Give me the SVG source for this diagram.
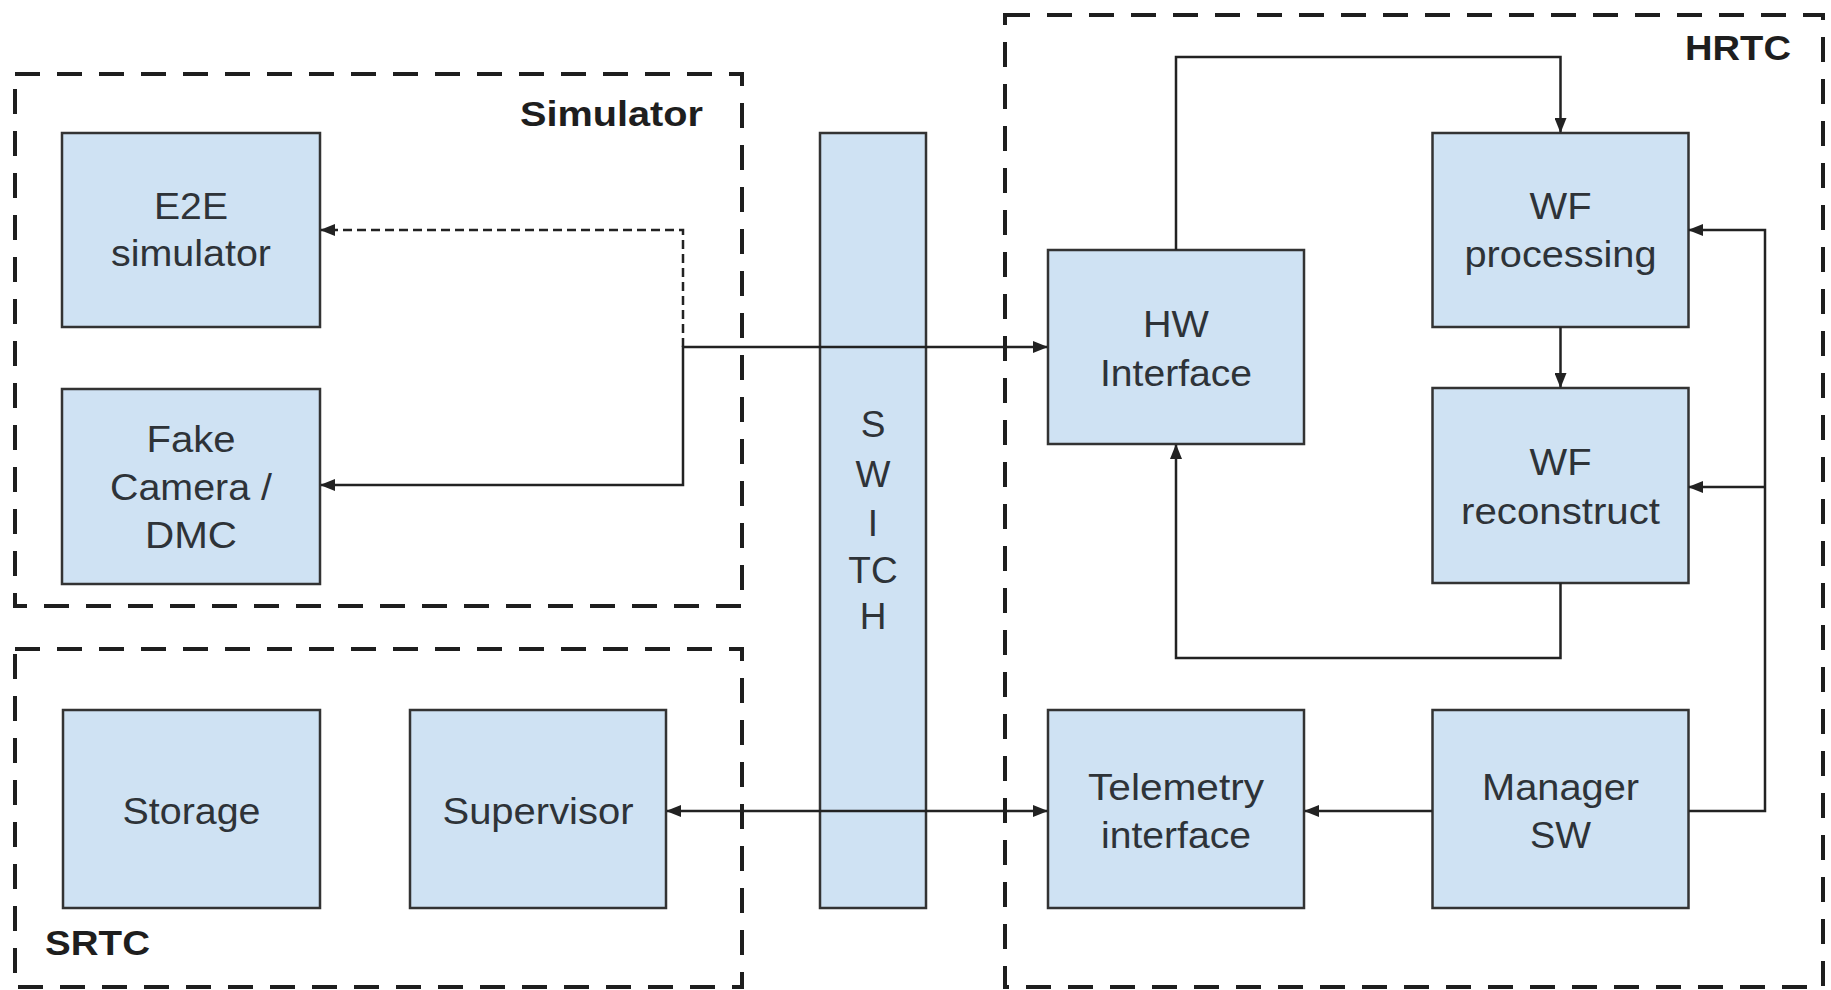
<svg xmlns="http://www.w3.org/2000/svg" width="1831" height="990" viewBox="0 0 1831 990">
<style>
.grp{fill:none;stroke:#1e1e1e;stroke-width:4;stroke-dasharray:25 17;}
.node rect{fill:#cfe2f3;stroke:#333;stroke-width:2.5;}
.node text,.lbl{font-family:"Liberation Sans",Arial,sans-serif;font-size:37px;fill:#2e3338;text-anchor:middle;}
.lbl{font-weight:bold;font-size:35px;fill:#1e1e1e;}
.con{fill:none;stroke:#222;stroke-width:2.5;}
</style>
<defs>
<marker id="ah" markerUnits="userSpaceOnUse" markerWidth="15" markerHeight="12" refX="14" refY="6" orient="auto-start-reverse">
<path d="M0,0 L15,6 L0,12 z" fill="#222"/>
</marker>
</defs>
<rect width="1831" height="990" fill="#fff"/>
<g id="groups">
<g id="simulator-group"><rect class="grp" x="15" y="74" width="727" height="532"/><text class="lbl" x="703" y="126" style="text-anchor:end" textLength="183" lengthAdjust="spacingAndGlyphs">Simulator</text></g>
<g id="srtc-group"><rect class="grp" x="15" y="649" width="727" height="338"/><text class="lbl" x="45" y="955" style="text-anchor:start" textLength="105" lengthAdjust="spacingAndGlyphs">SRTC</text></g>
<g id="hrtc-group"><rect class="grp" x="1005" y="15" width="818" height="972"/><text class="lbl" x="1791" y="60" style="text-anchor:end" textLength="106" lengthAdjust="spacingAndGlyphs">HRTC</text></g>
</g>
<g id="switch" class="node"><rect x="820" y="133" width="106" height="775"/>
<text x="873" y="437">S</text><text x="873" y="487">W</text><text x="873" y="536">I</text><text x="873" y="583">TC</text><text x="873" y="629">H</text></g>
<g id="e2e" class="node"><rect x="62" y="133" width="258" height="194"/>
<text x="191" y="219" textLength="74" lengthAdjust="spacingAndGlyphs">E2E</text><text x="191" y="266" textLength="160" lengthAdjust="spacingAndGlyphs">simulator</text></g>
<g id="fakecam" class="node"><rect x="62" y="389" width="258" height="195"/>
<text x="191" y="452" textLength="89" lengthAdjust="spacingAndGlyphs">Fake</text><text x="191" y="500" textLength="162" lengthAdjust="spacingAndGlyphs">Camera /</text><text x="191" y="548" textLength="92" lengthAdjust="spacingAndGlyphs">DMC</text></g>
<g id="storage" class="node"><rect x="63" y="710" width="257" height="198"/>
<text x="191.5" y="824" textLength="138" lengthAdjust="spacingAndGlyphs">Storage</text></g>
<g id="supervisor" class="node"><rect x="410" y="710" width="256" height="198"/>
<text x="538" y="824" textLength="191" lengthAdjust="spacingAndGlyphs">Supervisor</text></g>
<g id="hwif" class="node"><rect x="1048" y="250" width="256" height="194"/>
<text x="1176" y="337" textLength="66" lengthAdjust="spacingAndGlyphs">HW</text><text x="1176" y="386" textLength="152" lengthAdjust="spacingAndGlyphs">Interface</text></g>
<g id="wfproc" class="node"><rect x="1432.5" y="133" width="256" height="194"/>
<text x="1560.5" y="219" textLength="62" lengthAdjust="spacingAndGlyphs">WF</text><text x="1560.5" y="267" textLength="192" lengthAdjust="spacingAndGlyphs">processing</text></g>
<g id="wfrecon" class="node"><rect x="1432.5" y="388" width="256" height="195"/>
<text x="1560.5" y="475" textLength="62" lengthAdjust="spacingAndGlyphs">WF</text><text x="1560.5" y="524" textLength="199" lengthAdjust="spacingAndGlyphs">reconstruct</text></g>
<g id="telemetry" class="node"><rect x="1048" y="710" width="256" height="198"/>
<text x="1176" y="800" textLength="176" lengthAdjust="spacingAndGlyphs">Telemetry</text><text x="1176" y="848" textLength="150" lengthAdjust="spacingAndGlyphs">interface</text></g>
<g id="manager" class="node"><rect x="1432.5" y="710" width="256" height="198"/>
<text x="1560.5" y="800" textLength="157" lengthAdjust="spacingAndGlyphs">Manager</text><text x="1560.5" y="848" textLength="61" lengthAdjust="spacingAndGlyphs">SW</text></g>
<g id="connectors">
<path class="con" d="M683,347 V230 H321" stroke-dasharray="9 5" marker-end="url(#ah)"/>
<path class="con" d="M1047,347 H683 V485 H321" marker-start="url(#ah)" marker-end="url(#ah)"/>
<path class="con" d="M667,811 H1047" marker-start="url(#ah)" marker-end="url(#ah)"/>
<path class="con" d="M1432,811 H1305" marker-end="url(#ah)"/>
<path class="con" d="M1689,811 H1765 V230 H1689" marker-end="url(#ah)"/>
<path class="con" d="M1765,487 H1689" marker-end="url(#ah)"/>
<path class="con" d="M1176,250 V57 H1560.5 V132" marker-end="url(#ah)"/>
<path class="con" d="M1560.5,327 V387" marker-end="url(#ah)"/>
<path class="con" d="M1560.5,583 V658 H1176 V445" marker-end="url(#ah)"/>
</g>
</svg>
